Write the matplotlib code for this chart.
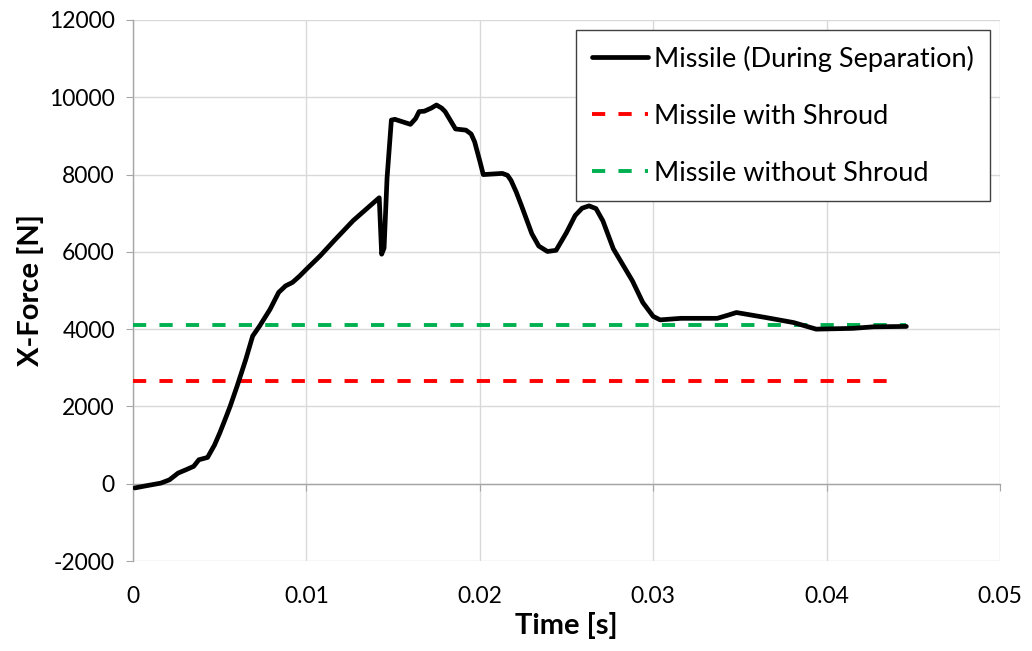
import matplotlib
matplotlib.use("Agg")
import matplotlib.pyplot as plt
from matplotlib.ticker import MultipleLocator, FormatStrFormatter

# Axial force history of the missile during separation
time_s = [0.0001, 0.0008, 0.0016, 0.0021, 0.0026, 0.0031, 0.0035, 0.0038, 0.0043,
          0.0047, 0.0050, 0.0053, 0.0056, 0.0060, 0.0065, 0.0069, 0.0073, 0.0079,
          0.0084, 0.0088, 0.0092, 0.0096, 0.0100, 0.0108, 0.0116, 0.0127, 0.0142,
          0.01434, 0.01448, 0.01465, 0.0149, 0.0151, 0.0160, 0.0163, 0.0165, 0.0168,
          0.0172, 0.0175, 0.0178, 0.0180, 0.0186, 0.0192, 0.0195, 0.0197, 0.0200,
          0.0202, 0.0213, 0.0216, 0.0218, 0.0221, 0.0224, 0.0230, 0.0234, 0.0239,
          0.0244, 0.0250, 0.0255, 0.0259, 0.0263, 0.0267, 0.0271, 0.0277, 0.0288,
          0.0294, 0.0300, 0.0304, 0.0316, 0.0337, 0.0343, 0.0348, 0.0365, 0.0381,
          0.0394, 0.0415, 0.0427, 0.0446]
force_n = [-110, -50, 15, 100, 275, 370, 450, 620, 680,
           1000, 1310, 1650, 2000, 2520, 3210, 3820, 4080, 4510,
           4950, 5120, 5210, 5370, 5550, 5900, 6290, 6810, 7400,
           5940, 6100, 7900, 9410, 9430, 9300, 9450, 9630, 9640,
           9720, 9800, 9720, 9630, 9180, 9150, 9050, 8850, 8350,
           8000, 8030, 7980, 7850, 7550, 7200, 6470, 6150, 6010,
           6040, 6500, 6940, 7130, 7190, 7120, 6800, 6080, 5250,
           4690, 4330, 4240, 4280, 4280, 4360, 4430, 4300, 4170,
           4000, 4020, 4060, 4070]

# Steady-state reference forces
with_shroud_t = [0.0, 0.0440]
with_shroud_f = [2650, 2650]
without_shroud_t = [0.0, 0.0446]
without_shroud_f = [4120, 4120]

labels = ["Missile (During Separation)", "Missile with Shroud", "Missile without Shroud"]

plt.rcParams['font.family'] = ['Lato', 'DejaVu Sans']

W, H = 1032, 651
fig = plt.figure(figsize=(W / 100, H / 100), dpi=100)
ax = fig.add_axes([133 / W, 1 - 561 / H, (1000 - 133) / W, (561 - 20) / H])

ax.plot(time_s, force_n, color='black', lw=3.4, solid_joinstyle='round',
        solid_capstyle='round', label=labels[0], zorder=4)
ax.plot(with_shroud_t, with_shroud_f, color='#FF0000', lw=2.8,
        dashes=(3.4, 3.4), label=labels[1], zorder=3)
ax.plot(without_shroud_t, without_shroud_f, color='#00B050', lw=2.8,
        dashes=(3.4, 3.4), label=labels[2], zorder=3)

ax.set_xlim(0, 0.05)
ax.set_ylim(-2000, 12000)
ax.xaxis.set_major_locator(MultipleLocator(0.01))
ax.yaxis.set_major_locator(MultipleLocator(2000))
ax.xaxis.set_major_formatter(plt.FuncFormatter(lambda v, p: f"{v:g}"))
ax.yaxis.set_major_formatter(FormatStrFormatter('%d'))

ax.grid(True, color='#d9d9d9', lw=1.0, zorder=0)
ax.set_axisbelow(True)

axis_gray = '#a6a6a6'
for side in ('top', 'right'):
    ax.spines[side].set_visible(False)
ax.spines['left'].set_color(axis_gray)
ax.spines['left'].set_linewidth(1.0)
# horizontal axis crosses at zero; its labels sit along the lower edge
ax.spines['bottom'].set_position(('data', 0))
ax.spines['bottom'].set_color(axis_gray)
ax.spines['bottom'].set_linewidth(1.0)

ax.tick_params(axis='y', direction='out', length=5, color=axis_gray,
               labelsize=16.5, pad=8, labelcolor='black')
ax.tick_params(axis='x', direction='out', length=5, color=axis_gray,
               labelsize=16.5, pad=69, labelcolor='black')

ax.set_xlabel("Time [s]", fontsize=21, fontweight='bold')
ax.set_ylabel("X-Force [N]", fontsize=21, fontweight='bold')
ax.xaxis.set_label_coords(0.5, -0.094)
ax.yaxis.set_label_coords(-0.103, 0.5)

leg = ax.legend(loc='upper right', bbox_to_anchor=(990 / W, 1 - 30 / H),
                bbox_transform=fig.transFigure, borderaxespad=0,
                fontsize=19.5, frameon=True, fancybox=False, edgecolor='#404040',
                framealpha=1, labelspacing=1.18, handlelength=2.1,
                handletextpad=0.22, borderpad=0.58)
leg.get_frame().set_linewidth(1.0)

fig.savefig("out.png", dpi=100)
